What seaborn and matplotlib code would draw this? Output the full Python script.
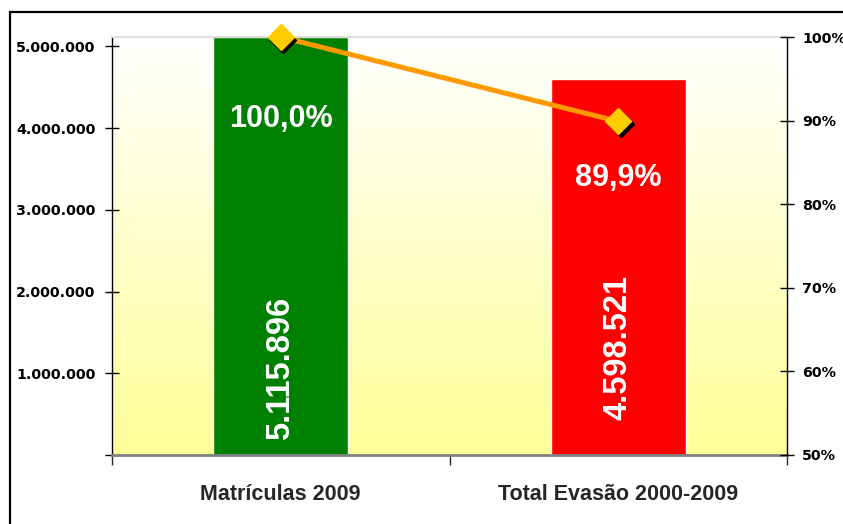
import numpy as np
import matplotlib
matplotlib.use("Agg")
import matplotlib.pyplot as plt
import matplotlib.transforms as mtransforms
from matplotlib.colors import LinearSegmentedColormap
from matplotlib.patches import Rectangle
from matplotlib.ticker import FuncFormatter, FixedLocator
import seaborn as sns

# data
categories = ["Matrículas 2009", "Total Evasão 2000-2009"]
totals = [5115896, 4598521]
percents = [100.0, 89.9]
bar_colors = ["#008000", "#FF0000"]

sns.set_style("white")

fig = plt.figure(figsize=(8.43, 5.24), dpi=100)
ax = fig.add_axes([112 / 843, 1 - 455 / 524, 675 / 843, 418 / 524])

# background gradient (white -> light yellow)
cmap = LinearSegmentedColormap.from_list("bg", ["#FFFFFF", "#FFFF99"])
grad = np.linspace(0, 1, 256).reshape(-1, 1)
ax.imshow(grad, cmap=cmap, aspect="auto", extent=[0, 1, 0, 1],
          transform=ax.transAxes, zorder=0)

sns.barplot(x=categories, y=totals, hue=categories, palette=bar_colors,
            width=0.40, legend=False, saturation=1, ax=ax, zorder=2)
ax.set_xlim(-0.5, 1.5)
ax.set_ylim(0, max(totals))

def thousands(v, _):
    if v == 0:
        return ""
    return f"{int(v):,}".replace(",", ".")

ax.yaxis.set_major_locator(FixedLocator([0, 1e6, 2e6, 3e6, 4e6, 5e6]))
ax.yaxis.set_major_formatter(FuncFormatter(thousands))
ax.tick_params(axis="y", direction="inout", length=10, width=1, pad=7,
               labelsize=10.3, colors="black", left=True)
for lbl in ax.get_yticklabels():
    lbl.set_fontweight("bold")
    lbl.set_family("DejaVu Sans")

ax.set_xticks([0, 1])
ax.set_xticklabels(categories, fontsize=15.5, fontweight="bold",
                   family="Liberation Sans")
ax.set_xticks([-0.5, 0.5, 1.5], minor=True)
ax.tick_params(axis="x", which="major", length=0, pad=21)
ax.tick_params(axis="x", which="minor", direction="out", length=7, width=1,
               bottom=True)
ax.set_xlabel("")
ax.set_ylabel("")

for side in ["left", "right", "top", "bottom"]:
    ax.spines[side].set_visible(True)
ax.spines["left"].set_color("black")
ax.spines["left"].set_linewidth(1)
ax.spines["bottom"].set_color("#808080")
ax.spines["bottom"].set_linewidth(2)
ax.spines["top"].set_color("#E0E0E0")
ax.spines["top"].set_linewidth(1.5)
ax.spines["right"].set_visible(False)

# rotated totals inside bars
base_offsets = [15, 35]
for i, v in enumerate(totals):
    ax.annotate(f"{v:,}".replace(",", "."), xy=(i, 0),
                xytext=(0, base_offsets[i] * 0.72), textcoords="offset points",
                rotation=90, ha="center", va="bottom", color="white",
                fontsize=23.5, fontweight="bold", family="Liberation Sans",
                zorder=5)

# percent line on secondary axis
ax2 = ax.twinx()
ax2.set_ylim(50, 100)
ax2.set_xlim(-0.5, 1.5)
x_pos = np.arange(len(categories))
sns.lineplot(x=x_pos, y=percents, color="#FF9900", linewidth=3.6, ax=ax2,
             zorder=3)
shadow = mtransforms.offset_copy(ax2.transData, fig=fig, x=2.5, y=-2.5,
                                 units="dots")
ax2.plot(x_pos, percents, linestyle="none", marker="D", markersize=13,
         color="black", transform=shadow, zorder=4, clip_on=False)
ax2.plot(x_pos, percents, linestyle="none", marker="D", markersize=13,
         markerfacecolor="#FFCC00", markeredgecolor="#FFCC00", zorder=5,
         clip_on=False)

ax2.yaxis.set_major_locator(FixedLocator([50, 60, 70, 80, 90, 100]))
ax2.yaxis.set_major_formatter(FuncFormatter(lambda v, _: f"{int(v)}%"))
ax2.tick_params(axis="y", direction="inout", length=10, width=1, pad=6,
                labelsize=10.3, colors="black", right=True)
for lbl in ax2.get_yticklabels():
    lbl.set_fontweight("bold")
    lbl.set_family("DejaVu Sans")
for side in ["left", "top", "bottom"]:
    ax2.spines[side].set_visible(False)
ax2.spines["right"].set_visible(True)
ax2.spines["right"].set_color("black")
ax2.spines["right"].set_linewidth(1)
ax2.set_ylabel("")

pct_offsets = [-82, -57]
for i, p in enumerate(percents):
    ax2.annotate(f"{p:.1f}%".replace(".", ","), xy=(i, p),
                 xytext=(0, pct_offsets[i] * 0.72), textcoords="offset points",
                 ha="center", va="center", color="white", fontsize=22,
                 fontweight="bold", family="Liberation Sans", zorder=6)

# outer chart frame (cut at right and bottom like the source)
fig.patches.append(Rectangle((10 / 843, -0.2), 1.2, 1.2 - 11.5 / 524,
                             transform=fig.transFigure, fill=False,
                             edgecolor="black", linewidth=1.6))

fig.savefig("out.png", dpi=100)
